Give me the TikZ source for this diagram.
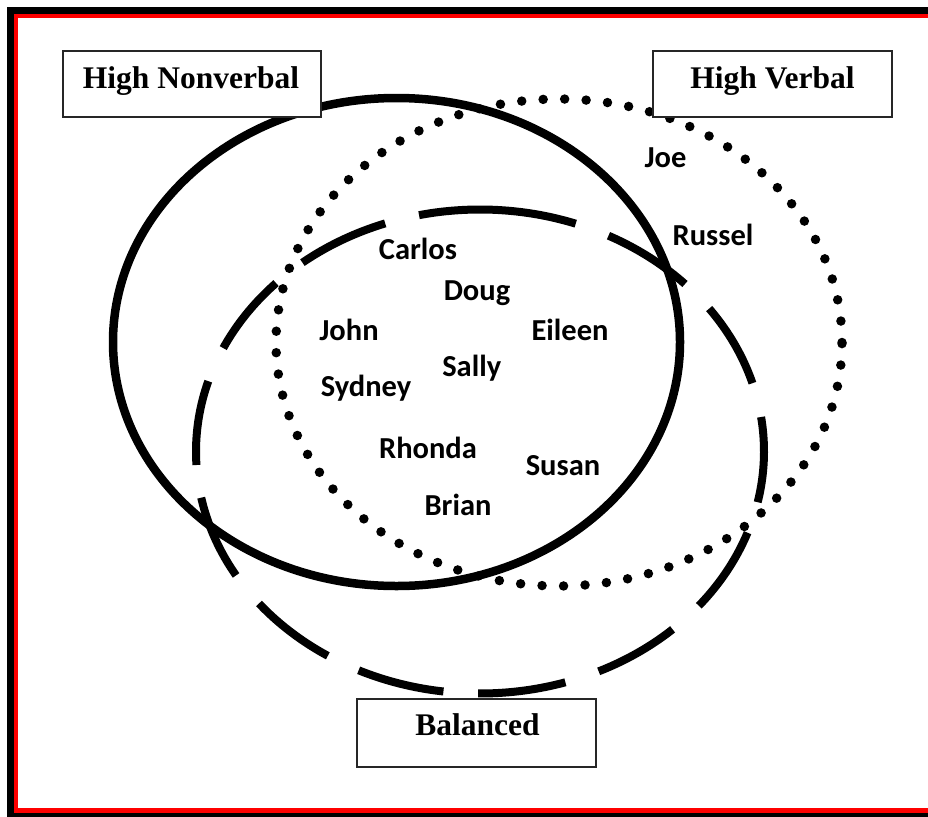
\documentclass[tikz,border=0pt]{standalone}
\usepackage{fontspec}
\setmainfont{Liberation Serif}
\newfontfamily\namefont{Carlito}
\begin{document}
\begin{tikzpicture}[x=1pt, y=-1pt,
  labelbox/.style={draw=black!85, line width=2pt, fill=white, inner sep=0pt},
  boxtext/.style={font=\fontsize{31.5}{33}\selectfont\bfseries, inner sep=0pt, anchor=base},
  member/.style={font=\namefont\fontsize{30.5}{32}\selectfont\bfseries, inner sep=0pt, anchor=base},
  nonverballine/.style={line width=8.5pt},
  verballine/.style={line width=9.5pt, line cap=round, dash pattern=on 0pt off 21.5pt},
  balancedline/.style={line width=8pt, line cap=butt}
]
\useasboundingbox (0,0) rectangle (928,816);

% framed page: black outer band, red inner band
\fill[black] (7,7) rectangle (960,840);
\fill[red] (14,14) rectangle (960,813);
\fill[white] (18,18) rectangle (960,808);

% High Nonverbal (solid) and High Verbal (dotted) sets
\draw[nonverballine] (396.5,342) ellipse [x radius=283.5pt, y radius=244pt];
\draw[verballine] (559,342.5) ellipse [x radius=283pt, y radius=243.5pt];

% Balanced set: long dashes
\foreach \a/\b in {257.6/289.7, 296.9/316.2, 323.8/343.6, 351.8/372.1,
                   19.6/39.6, 47.3/65.3, 72.5/90.4, 97.4/115.3,
                   122.4/141.1, 149.2/169, 176.8/196.9, 205.3/224.1, 231.3/250.5}{
  \draw[balancedline] plot[domain=\a:\b, samples=30, smooth, variable=\t]
    ({480+284*cos(\t)}, {451.5+242*sin(\t)});
}

% set labels
\node[labelbox, minimum width=258pt, minimum height=66pt] (nvbox) at (192,84) {};
\node[boxtext] (nv) at (191,88) {High Nonverbal};
\node[labelbox, minimum width=239pt, minimum height=66pt] (vbox) at (772.5,84) {};
\node[boxtext] (v) at (772.5,88) {High Verbal};
\node[labelbox, minimum width=239pt, minimum height=68pt] (bbox) at (476.5,733) {};
\node[boxtext] (b) at (477.5,735) {Balanced};

% members
\node[member] (joe) at (665.5,167.3) {Joe};
\node[member] (russel) at (713,245) {Russel};
\node[member] (carlos) at (418,259.3) {Carlos};
\node[member] (doug) at (477,300) {Doug};
\node[member] (john) at (349,340) {John};
\node[member] (eileen) at (570,340) {Eileen};
\node[member] (sally) at (471.7,376.7) {Sally};
\node[member] (sydney) at (366,396.7) {Sydney};
\node[member] (rhonda) at (428,458.3) {Rhonda};
\node[member] (susan) at (563,475) {Susan};
\node[member] (brian) at (458,515) {Brian};
\end{tikzpicture}
\end{document}
